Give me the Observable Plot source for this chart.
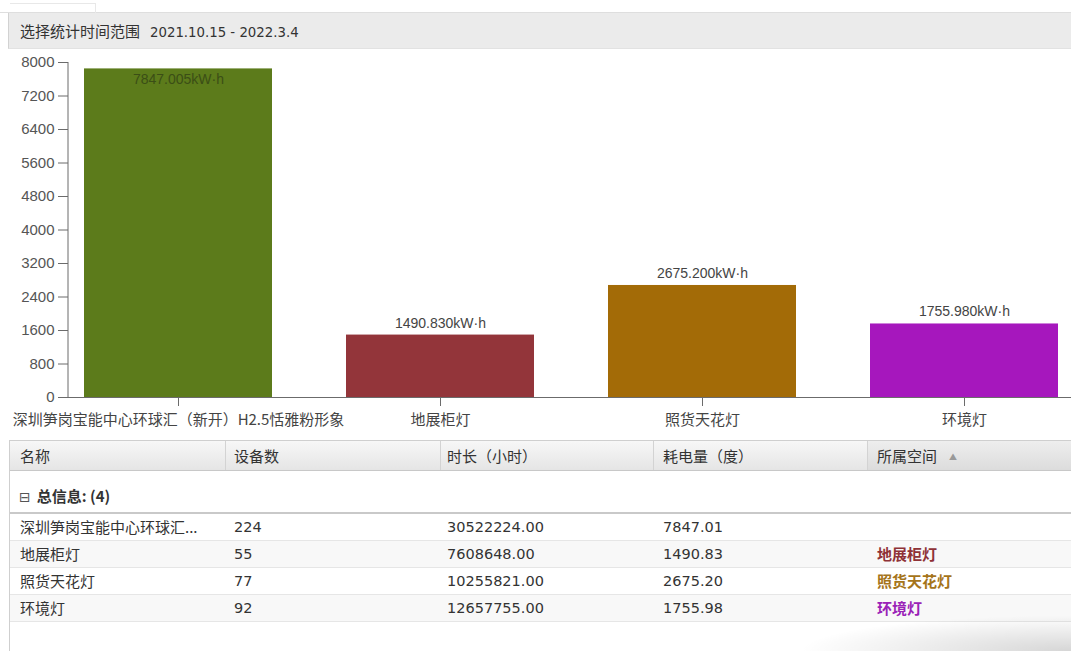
<!DOCTYPE html>
<html>
<head>
<meta charset="utf-8">
<script src="https://cdn.jsdelivr.net/npm/d3@7"></script>
<script src="https://cdn.jsdelivr.net/npm/@observablehq/plot@0.6"></script>
<style>
html, body { margin: 0; padding: 0; background: #fff; }
body { width: 1071px; height: 651px; position: relative; overflow: hidden;
  font-family: "DejaVu Sans", "Noto Sans CJK SC", sans-serif; color: #333; }
.cjk { font-family: "Noto Sans CJK SC", sans-serif; }
#topline { position: absolute; left: 0; top: 0; width: 1071px; height: 12px; border-bottom: 1px solid #dedede; }
#tab { position: absolute; left: 10px; top: 3px; width: 85px; height: 9px; border-top: 1px solid #e8e8e8; border-right: 1px solid #e8e8e8; }
#hdr { position: absolute; left: 8px; top: 13px; width: 1063px; height: 36px; box-sizing: border-box;
  background: #ebebeb; border-left: 1px solid #d2d2d2; border-bottom: 1px solid #e2e2e2;
  line-height: 35px; padding-left: 11px; font-size: 13.3px; color: #333; }
#hdr .cjk { font-size: 15px; margin-right: 10px; }
#chart { position: absolute; left: 0; top: 50px; }
#tbl { position: absolute; left: 9px; top: 440px; width: 1062px; bottom: 0; border-left: 1px solid #cfcfcf; }
.row { display: flex; box-sizing: border-box; }
.cell { box-sizing: border-box; white-space: nowrap; overflow: hidden; }
.head { height: 31px; border-top: 1px solid #cfcfcf; border-bottom: 1px solid #c8c8c8;
  background: linear-gradient(#f7f7f7, #e5e5e5); }
.head .cell { line-height: 29px; font-size: 15px; border-right: 1px solid #d3d3d3; }
.head .cell.sorted { background: linear-gradient(#eeeeee, #dcdcdc); border-right: none; }
.arrow { font-size: 8px; color: #999; margin-left: 12px; vertical-align: 2px; }
.group { height: 41px; border-bottom: 2px solid #c9c9c9; line-height: 50px; padding-left: 9px; }
.group .box { font-size: 14px; color: #555; }
.group .gt { font-size: 15px; font-weight: bold; margin-left: 6px; }
.data { height: 27px; border-bottom: 1px solid #e6e6e6; line-height: 26px; font-size: 14.5px; }
.data.alt { background: #f8f8f8; }
.data .cjk { font-size: 15px; }
.data .sp { font-weight: bold; }
#shade { position: absolute; left: 620px; top: 600px; width: 451px; height: 51px;
  background: radial-gradient(ellipse 60% 70% at 100% 100%, rgba(0,0,0,0.16), rgba(0,0,0,0) 100%); }
</style>
</head>
<body>
<div id="topline"></div>
<div id="tab"></div>
<div id="hdr"><span class="cjk" id="hdrLabel"></span><span id="hdrRange"></span></div>
<div id="chart"></div>
<div id="tbl"></div>
<div id="shade"></div>
<script>
// ---- data ----
const rangeLabel = "选择统计时间范围";
const rangeText = "2021.10.15 - 2022.3.4";
const categories = ["深圳笋岗宝能中心环球汇（新开）H2.5恬雅粉形象", "地展柜灯", "照货天花灯", "环境灯"];
const tableNames = ["深圳笋岗宝能中心环球汇...", "地展柜灯", "照货天花灯", "环境灯"];
const energy = [7847.005, 1490.830, 2675.200, 1755.980];
const barColors = ["#5c7b1b", "#93353a", "#a36b07", "#a617bd"];
const yTicks = [0, 800, 1600, 2400, 3200, 4000, 4800, 5600, 6400, 7200, 8000];
const deviceCounts = [224, 55, 77, 92];
const hours = [30522224.00, 7608648.00, 10255821.00, 12657755.00];
const spaces = ["", "地展柜灯", "照货天花灯", "环境灯"];
const spaceColors = ["#333", "#8f3237", "#a5741a", "#9a22b7"];
const columns = ["名称", "设备数", "时长（小时）", "耗电量（度）", "所属空间"];
const groupLabel = "总信息: (4)";
const unit = "kW·h";

document.getElementById("hdrLabel").textContent = rangeLabel;
document.getElementById("hdrRange").textContent = rangeText;

// ---- chart ----
const yMax = yTicks[yTicks.length - 1];
const data = categories.map((c, i) => ({name: c, value: energy[i], label: energy[i].toFixed(3) + unit}));
const inside = data.filter(d => d.value > yMax * 0.93);
const above = data.filter(d => d.value <= yMax * 0.93);

const axisLine = (index, scales, values, dims) => {
  const l = document.createElementNS("http://www.w3.org/2000/svg", "line");
  const x = dims.marginLeft;
  l.setAttribute("x1", x); l.setAttribute("x2", x);
  l.setAttribute("y1", scales.y(0)); l.setAttribute("y2", scales.y(yMax));
  l.setAttribute("stroke", "#6b6b6b");
  return l;
};

const chart = Plot.plot({
  width: 1071,
  height: 390,
  marginLeft: 68,
  marginRight: 0,
  marginTop: 12,
  marginBottom: 43,
  style: {fontFamily: '"Liberation Sans", Arial, sans-serif', background: "transparent", overflow: "visible"},
  x: {domain: categories, range: [8, 1134], padding: 0.2814, align: 0.5, axis: null},
  y: {domain: [0, yMax], axis: null},
  color: {domain: categories, range: barColors},
  marks: [
    Plot.barY(data, {x: "name", y: "value", fill: "name"}),
    Plot.ruleY([0], {stroke: "#6b6b6b"}),
    axisLine,
    Plot.axisY({ticks: yTicks, label: null, tickSize: 10, tickPadding: 4, fontSize: 15, stroke: "#6b6b6b", fill: "#555", tickFormat: d => String(d)}),
    Plot.axisX({label: null, tickSize: 9, tickPadding: 8, fontSize: 15, fontFamily: '"Noto Sans CJK SC", sans-serif', stroke: "#6b6b6b", fill: "#444"}),
    Plot.text(above, {x: "name", y: "value", text: "label", dy: -12, fontSize: 14, fill: "#444"}),
    Plot.text(inside, {x: "name", y: "value", text: "label", dy: 11, fontSize: 14, fill: "#3b4e16"})
  ]
});
document.getElementById("chart").appendChild(chart);

// ---- table ----
const colWidths = [216, 215, 213, 214, 204];
const colPad = [10, 8, 6, 9, 9];
const tbl = document.getElementById("tbl");
function cell(i, text, cls, color) {
  const c = document.createElement("div");
  c.className = "cell" + (cls ? " " + cls : "");
  c.style.width = colWidths[i] + "px";
  c.style.paddingLeft = colPad[i] + "px";
  if (color) c.style.color = color;
  c.textContent = text;
  return c;
}
const head = document.createElement("div");
head.className = "row head";
columns.forEach((t, i) => {
  const c = cell(i, t, "cjk" + (i === columns.length - 1 ? " sorted" : ""));
  if (i === columns.length - 1) {
    const a = document.createElement("span"); a.className = "arrow"; a.textContent = "▲"; c.appendChild(a);
  }
  head.appendChild(c);
});
tbl.appendChild(head);

const grp = document.createElement("div");
grp.className = "group";
grp.innerHTML = '<span class="box">⊟</span><span class="gt cjk"></span>';
grp.querySelector(".gt").textContent = groupLabel;
tbl.appendChild(grp);

tableNames.forEach((n, r) => {
  const row = document.createElement("div");
  row.className = "row data" + (r % 2 === 1 ? " alt" : "");
  row.appendChild(cell(0, n, "cjk"));
  row.appendChild(cell(1, String(deviceCounts[r])));
  row.appendChild(cell(2, hours[r].toFixed(2)));
  row.appendChild(cell(3, energy[r].toFixed(2)));
  row.appendChild(cell(4, spaces[r], "cjk sp", spaceColors[r]));
  tbl.appendChild(row);
});
</script>
</body>
</html>
